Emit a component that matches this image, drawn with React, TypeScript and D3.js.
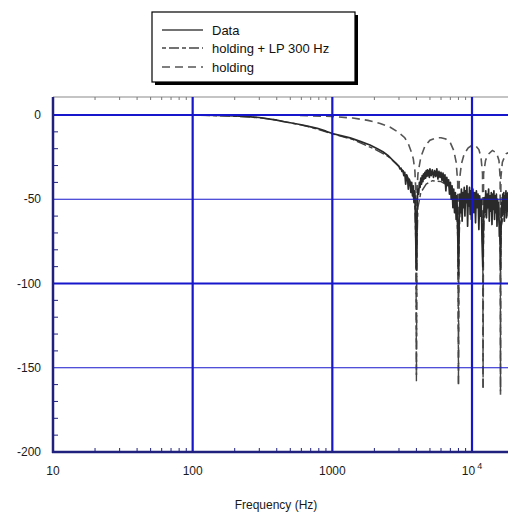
import React from 'react';
import * as d3 from 'd3';

const yTicks = [0, -50, -100, -150, -200];
const xDecades = [10, 100, 1000, 10000];
const legendLabels = ['Data', 'holding + LP 300 Hz', 'holding'];

// measured response (Hz, dB)
const dataSmooth: [number, number][] = [
  [10, 0], [100, 0], [150, -0.2], [200, -0.6], [250, -1.0], [300, -1.5], [400, -3], [450, -4],
  [500, -4.6], [600, -5.8], [700, -7], [780, -7.9], [900, -9.6], [1000, -11], [1150, -12.2],
  [1340, -13.6], [1600, -15.8], [1860, -17.8], [2100, -20], [2300, -21.8], [2500, -24],
  [2700, -26.7], [2850, -28.6],
];
const dataNoisy: [number, number][] = [
  [3000, -30.5], [3050, -32], [3100, -31.5], [3150, -33.5], [3200, -33], [3250, -36], [3300, -34],
  [3350, -41], [3400, -35.5], [3450, -37], [3500, -44], [3550, -38], [3600, -39.5], [3650, -46],
  [3700, -40], [3750, -48], [3800, -42], [3850, -52], [3900, -45], [3950, -70], [3980, -88],
  [4000, -92], [4020, -85], [4050, -52], [4100, -44], [4150, -47], [4200, -40], [4250, -43],
  [4300, -37.5], [4350, -41], [4400, -36], [4450, -39.5], [4500, -35], [4550, -38], [4600, -34],
  [4650, -37.5], [4700, -33], [4750, -36.5], [4800, -32.5], [4850, -36], [4900, -33], [4950, -37],
  [5000, -32], [5100, -36], [5200, -32.5], [5300, -37], [5400, -33], [5500, -36.5], [5600, -32],
  [5700, -38], [5800, -33.5], [5900, -37], [6000, -34], [6100, -39], [6200, -34.5], [6300, -40],
  [6400, -35.5], [6500, -45], [6600, -37], [6700, -42], [6800, -38.5], [6900, -47], [7000, -40],
  [7100, -50], [7200, -42], [7300, -55], [7400, -44], [7500, -58], [7600, -46], [7700, -62],
  [7800, -48], [7900, -70], [8000, -95], [8100, -60], [8200, -47], [8300, -58], [8400, -44],
  [8500, -63], [8600, -46], [8700, -55], [8800, -43], [8900, -60], [9000, -45], [9100, -52],
  [9200, -42], [9300, -66], [9400, -47], [9500, -54], [9600, -43], [9700, -59], [9800, -45],
  [9900, -62], [10000, -48], [10150, -44], [10300, -58], [10450, -46], [10600, -64], [10750, -45],
  [10900, -55], [11050, -47], [11200, -68], [11350, -48], [11500, -60], [11650, -50], [11800, -75],
  [11950, -90], [12100, -62], [12250, -49], [12400, -58], [12550, -45], [12700, -61], [12850, -47],
  [13000, -55], [13150, -44], [13300, -63], [13450, -48], [13600, -57], [13750, -46], [13900, -65],
  [14050, -47], [14200, -56], [14350, -45], [14500, -62], [14650, -48], [14800, -58], [14950, -47],
  [15100, -66], [15250, -50], [15400, -60], [15550, -52], [15700, -72], [15850, -64], [16000, -92],
  [16150, -66], [16300, -52], [16450, -60], [16600, -47], [16750, -58], [16900, -46], [17050, -63],
  [17200, -48], [17350, -56], [17500, -45], [17650, -61], [17800, -47], [17950, -57], [18100, -46],
  [18250, -60], [18400, -48], [18550, -55], [18700, -47], [18850, -62], [19000, -49],
];

// model: holding + LP 300 Hz (Hz, dB)
const holdingLP: [number, number][] = [
  [10, 0], [100, -0.1], [200, -0.7], [300, -1.6], [400, -3], [500, -4.6], [700, -7.2],
  [1000, -11.2], [1400, -14.5], [2000, -20.2], [2500, -24.5], [3000, -30.5], [3400, -35.5],
  [3700, -42], [3900, -55], [3970, -80], [4000, -158], [4030, -80], [4100, -55], [4300, -46],
  [4700, -41], [5200, -39], [6000, -39.5], [6800, -42], [7400, -47], [7800, -58], [7950, -80],
  [8000, -160], [8050, -80], [8200, -58], [8700, -51], [9500, -48.5], [10500, -48.5],
  [11300, -52], [11800, -62], [11950, -80], [12000, -162], [12050, -80], [12200, -62],
  [12800, -55], [14000, -54], [15200, -57], [15800, -66], [15950, -82], [16000, -164],
  [16050, -82], [16200, -66], [17000, -58], [18500, -57], [20000, -60],
];

// model: holding (Hz, dB)
const holding: [number, number][] = [
  [10, 0], [100, 0], [500, -0.1], [1000, -0.9], [1400, -1.8], [1800, -3.2], [2200, -5],
  [2600, -7.3], [3000, -10.5], [3300, -13.5], [3500, -17], [3700, -22.5], [3800, -26],
  [3900, -33], [3960, -45], [4000, -155], [4040, -45], [4100, -35], [4300, -25], [4600, -18.5],
  [5000, -15], [5500, -13.6], [6000, -13.5], [6500, -14.3], [7000, -16.5], [7400, -21],
  [7700, -28], [7900, -40], [8000, -161], [8100, -40], [8400, -29], [8800, -23], [9400, -19.5],
  [10000, -18], [10600, -18.2], [11200, -20.5], [11600, -25], [11900, -35], [12000, -163],
  [12100, -35], [12500, -27], [13000, -23.5], [14000, -21], [15000, -22.5], [15600, -27],
  [15900, -37], [16000, -166], [16100, -37], [16500, -28], [17500, -23], [18000, -22.5],
  [20000, -26],
];

const W = 508;
const H = 513;
const FONT = '"Liberation Sans", Arial, Helvetica, sans-serif';

export default function App() {
  const x = d3.scaleLog().domain([10, 10000]).range([53, 472]);
  const y = d3.scaleLinear().domain([-200, 0]).range([452, 115]);
  const plotTop = 97;
  const plotLeft = x(10);
  const plotBottom = y(-200);
  const plotRight = W;

  const line = d3
    .line<[number, number]>()
    .x((d) => x(d[0]))
    .y((d) => y(d[1]));

  const minorX: number[] = [];
  xDecades.forEach((dec) => {
    for (let m = 2; m <= 9; m++) {
      const v = dec * m;
      if (x(v) < plotRight) minorX.push(v);
    }
  });
  const minorY = d3.range(-190, 10, 10).filter((v) => v % 50 !== 0);

  const gridBlue = '#1616cc';
  const axisBlue = '#20207e';

  const legendX = 152;
  const legendY = 12;
  const legendW = 203;
  const legendH = 70;
  const rowY = [30, 48, 67];
  const dashes = [undefined, '4,3,10,3', '8,5'];
  const strokes = ['#444', '#444', '#555'];

  return (
    <svg
      width={W}
      height={H}
      style={{ position: 'absolute', left: 0, top: 0, background: '#fff' }}
      fontFamily={FONT}
    >
      <defs>
        <clipPath id="plotclip">
          <rect x={plotLeft} y={plotTop} width={plotRight - plotLeft} height={plotBottom - plotTop} />
        </clipPath>
      </defs>
      <rect x={0} y={0} width={W} height={H} fill="#fff" />

      {/* series */}
      <g clipPath="url(#plotclip)" fill="none">
        <path d={line(holding) || ''} stroke="#555" strokeWidth={1.6} strokeDasharray="8,5" />
        <path d={line(holdingLP) || ''} stroke="#444" strokeWidth={1.4} strokeDasharray="4,3,10,3" />
        <path
          d={line([...dataSmooth, ...dataNoisy]) || ''}
          stroke="#2a2a2a"
          strokeWidth={1.7}
          strokeLinejoin="round"
        />
      </g>

      {/* top border with minor ticks */}
      <line x1={plotLeft} x2={plotRight} y1={plotTop} y2={plotTop} stroke="#8a8a8a" strokeWidth={1.2} />
      {minorX.map((v) => (
        <line key={'tt' + v} x1={x(v)} x2={x(v)} y1={plotTop} y2={plotTop + 3} stroke="#777" strokeWidth={1} />
      ))}

      {/* grid */}
      {yTicks
        .filter((v) => v > -200)
        .map((v) => (
          <line
            key={'gy' + v}
            x1={plotLeft}
            x2={plotRight}
            y1={y(v)}
            y2={y(v)}
            stroke={gridBlue}
            strokeWidth={v % 100 === 0 ? 2.2 : 1.2}
          />
        ))}
      {xDecades
        .filter((v) => v > 10)
        .map((v) => (
          <line key={'gx' + v} x1={x(v)} x2={x(v)} y1={plotTop} y2={plotBottom} stroke={gridBlue} strokeWidth={2.2} />
        ))}

      {/* axes */}
      <line x1={plotLeft} x2={plotLeft} y1={plotTop} y2={plotBottom + 1} stroke={axisBlue} strokeWidth={2.5} />
      <line x1={plotLeft - 1} x2={plotRight} y1={plotBottom} y2={plotBottom} stroke={axisBlue} strokeWidth={2.5} />
      {minorY.map((v) => (
        <line key={'my' + v} x1={plotLeft} x2={plotLeft + 5} y1={y(v)} y2={y(v)} stroke={axisBlue} strokeWidth={1} />
      ))}
      {minorX.map((v) => (
        <line key={'mx' + v} x1={x(v)} x2={x(v)} y1={plotBottom} y2={plotBottom - 4} stroke={axisBlue} strokeWidth={1} />
      ))}

      {/* tick labels */}
      {yTicks.map((v) => (
        <text key={'ly' + v} x={41} y={y(v)} dy="0.35em" textAnchor="end" fontSize={12} fill="#1a1a1a">
          {v === 0 ? '0' : String(v)}
        </text>
      ))}
      {xDecades.map((v) => (
        <text key={'lx' + v} x={x(v)} y={475} textAnchor="middle" fontSize={12} fill="#1a1a1a">
          {v === 10000 ? (
            <>
              10
              <tspan dx={2} dy={-6} fontSize={9}>
                4
              </tspan>
            </>
          ) : (
            String(v)
          )}
        </text>
      ))}
      <text x={276} y={509} textAnchor="middle" fontSize={12} fill="#1a1a1a">
        Frequency (Hz)
      </text>

      {/* legend */}
      <rect x={legendX + 3} y={legendY + 3} width={legendW} height={legendH} fill="#000" />
      <rect x={legendX} y={legendY} width={legendW} height={legendH} fill="#fff" stroke="#000" strokeWidth={1.2} />
      {legendLabels.map((lab, i) => (
        <g key={lab}>
          <line
            x1={162}
            x2={203}
            y1={rowY[i]}
            y2={rowY[i]}
            stroke={strokes[i]}
            strokeWidth={1.4}
            strokeDasharray={dashes[i]}
          />
          <text x={212} y={rowY[i]} dy="0.35em" fontSize={13} fill="#111">
            {lab}
          </text>
        </g>
      ))}
    </svg>
  );
}
